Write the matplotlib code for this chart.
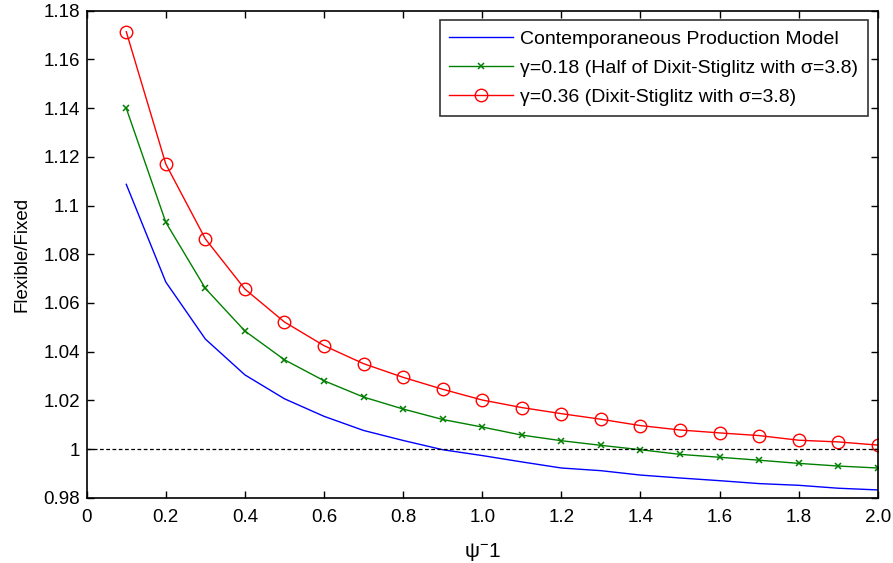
import matplotlib
matplotlib.use("Agg")
import matplotlib.pyplot as plt
import numpy as np

plt.rcParams['font.family'] = ['Liberation Sans', 'DejaVu Sans']
plt.rcParams['mathtext.fontset'] = 'custom'
plt.rcParams['mathtext.rm'] = 'Liberation Sans'
plt.rcParams['mathtext.it'] = 'Liberation Sans'

x = [0.1, 0.2, 0.3, 0.4, 0.5, 0.6, 0.7, 0.8, 0.9, 1.0,
     1.1, 1.2, 1.3, 1.4, 1.5, 1.6, 1.7, 1.8, 1.9, 2.0]
contemporaneous = [1.1087, 1.0686, 1.0452, 1.0305, 1.0207, 1.0135, 1.0077, 1.0036, 0.9998, 0.9974,
                   0.9948, 0.9923, 0.9912, 0.9894, 0.9882, 0.9871, 0.9859, 0.9852, 0.9840, 0.9833]
gamma_018 = [1.1399, 1.0931, 1.0660, 1.0485, 1.0367, 1.0281, 1.0214, 1.0165, 1.0122, 1.0091,
             1.0058, 1.0035, 1.0016, 0.9998, 0.9979, 0.9967, 0.9955, 0.9942, 0.9931, 0.9923]
gamma_036 = [1.1713, 1.1170, 1.0863, 1.0657, 1.0522, 1.0425, 1.0351, 1.0295, 1.0246, 1.0202,
             1.0171, 1.0146, 1.0123, 1.0097, 1.0079, 1.0067, 1.0056, 1.0037, 1.0030, 1.0017]
reference_level = 1.0

labels = ['Contemporaneous Production Model',
          'γ=0.18 (Half of Dixit-Stiglitz with σ=3.8)',
          'γ=0.36 (Dixit-Stiglitz with σ=3.8)']
xticks = [0, 0.2, 0.4, 0.6, 0.8, 1.0, 1.2, 1.4, 1.6, 1.8, 2.0]
xticklabels = ['0', '0.2', '0.4', '0.6', '0.8', '1.0', '1.2', '1.4', '1.6', '1.8', '2.0']
yticks = [0.98, 1.0, 1.02, 1.04, 1.06, 1.08, 1.1, 1.12, 1.14, 1.16, 1.18]
yticklabels = ['0.98', '1', '1.02', '1.04', '1.06', '1.08', '1.1', '1.12', '1.14', '1.16', '1.18']

fig = plt.figure(figsize=(8.93, 5.63), dpi=100)
ax = fig.add_axes([0.0971, 0.1155, 0.8858, 0.8658])

ax.plot(x, contemporaneous, color='#0000ff', lw=1.0, label=labels[0])
ax.plot(x, gamma_018, color='#008000', lw=1.0, marker='x', ms=5, mew=1.1, label=labels[1])
ax.plot(x, gamma_036, color='#ff0000', lw=1.0, marker='o', ms=9, mfc='none', mew=1.0, label=labels[2])
ax.axhline(reference_level, color='black', lw=0.9, ls=(0, (3, 2)))

ax.set_xlim(0, 2.0)
ax.set_ylim(0.98, 1.18)
ax.set_xticks(xticks)
ax.set_xticklabels(xticklabels)
ax.set_yticks(yticks)
ax.set_yticklabels(yticklabels)
ax.tick_params(direction='in', top=True, right=True, length=5, width=1, labelsize=13.5)
ax.tick_params(axis='x', pad=8)
ax.tick_params(axis='y', pad=5)
for s in ax.spines.values():
    s.set_linewidth(1.2)

ax.set_xlabel('ψ$^{-}$1', fontsize=15, labelpad=11)
ax.set_ylabel('Flexible/Fixed', fontsize=13.5, labelpad=9)

leg = ax.legend(loc='upper right', fontsize=14, frameon=True, fancybox=False,
                edgecolor='black', handlelength=3.3, borderaxespad=0.5,
                labelspacing=0.6, handletextpad=0.35, borderpad=0.5)
leg.get_frame().set_linewidth(1.2)

fig.savefig('out.png', dpi=100, facecolor='white')
